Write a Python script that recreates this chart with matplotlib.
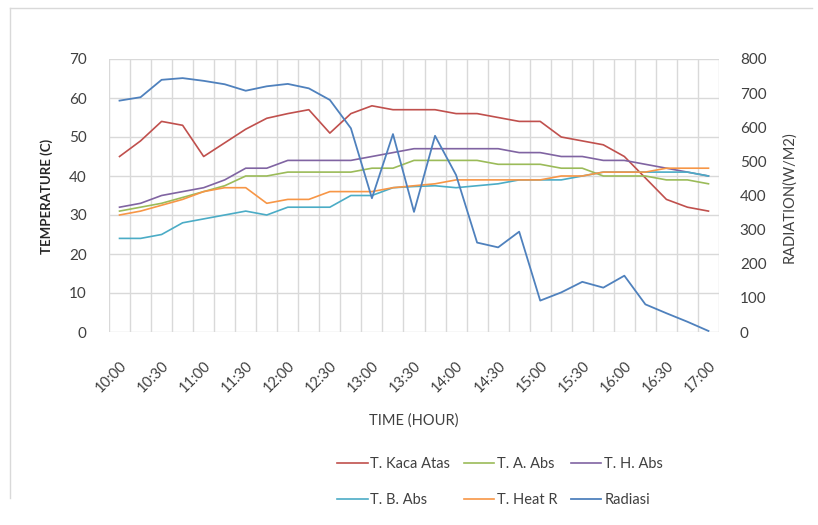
import matplotlib
matplotlib.use("Agg")
import matplotlib.pyplot as plt
from matplotlib.lines import Line2D

# ---------------------------------------------------------------------------
# Data (15-minute readings, 10:00 - 17:00)
# ---------------------------------------------------------------------------
times = ["10:00", "10:15", "10:30", "10:45", "11:00", "11:15", "11:30", "11:45",
         "12:00", "12:15", "12:30", "12:45", "13:00", "13:15", "13:30", "13:45",
         "14:00", "14:15", "14:30", "14:45", "15:00", "15:15", "15:30", "15:45",
         "16:00", "16:15", "16:30", "16:45", "17:00"]

t_kaca_atas = [45, 49, 54, 53, 45, 48.5, 52, 54.8, 56, 57, 51, 56, 58, 57, 57,
               57, 56, 56, 55, 54, 54, 50, 49, 48, 45, 39.5, 34, 32, 31]
t_a_abs = [31, 32, 33, 34.5, 36, 37.5, 40, 40, 41, 41, 41, 41, 42, 42, 44,
           44, 44, 44, 43, 43, 43, 42, 42, 40, 40, 40, 39, 39, 38]
t_h_abs = [32, 33, 35, 36, 37, 39, 42, 42, 44, 44, 44, 44, 45, 46, 47,
           47, 47, 47, 47, 46, 46, 45, 45, 44, 44, 43, 42, 41, 40]
t_b_abs = [24, 24, 25, 28, 29, 30, 31, 30, 32, 32, 32, 35, 35, 37, 37.3,
           37.5, 37, 37.5, 38, 39, 39, 39, 40, 41, 41, 41, 41, 41, 40]
t_heat_r = [30, 31, 32.5, 34, 36, 37, 37, 33, 34, 34, 36, 36, 36, 37, 37.5,
            38, 39, 39, 39, 39, 39, 40, 40, 41, 41, 41, 42, 42, 42]
radiasi = [678, 688, 739, 744, 736, 726, 707, 720, 727, 714, 680, 597, 392, 580,
           352, 575, 460, 262, 248, 294, 92, 116, 147, 130, 165, 81, 55, 30, 3]

temp_series = [
    ("T. Kaca Atas", t_kaca_atas, "#C0504D"),
    ("T. A. Abs", t_a_abs, "#9BBB59"),
    ("T. H. Abs", t_h_abs, "#8064A2"),
    ("T. B. Abs", t_b_abs, "#4BACC6"),
    ("T. Heat R", t_heat_r, "#F79646"),
]
RAD_COLOR = "#4F81BD"

plt.rcParams["font.family"] = ["Lato", "DejaVu Sans"]
TXT = "#404040"
GRID = "#D9D9D9"

W, H = 818, 525
fig = plt.figure(figsize=(W / 100, H / 100), dpi=100)
fig.patch.set_facecolor("white")

# plot area in pixels: x 109..719, y 59..332
ax = fig.add_axes([109 / W, 1 - 332 / H, 610 / W, 273 / H])
ax2 = ax.twinx()

x = list(range(len(times)))
handles = {}
for name, vals, col in temp_series:
    ln, = ax.plot(x, vals, color=col, lw=1.2, label=name)
    handles[name] = ln
ln, = ax2.plot(x, radiasi, color=RAD_COLOR, lw=1.3, label="Radiasi")
handles["Radiasi"] = ln

ax.set_xlim(-0.5, len(times) - 0.5)
ax.set_ylim(0, 70)
ax.set_yticks(range(0, 71, 10))
ax2.set_ylim(0, 800)
ax2.set_yticks(range(0, 801, 100))

# grid: horizontal on value ticks, vertical on category boundaries
ax.set_xticks([i - 0.5 for i in range(len(times) + 1)], minor=True)
ax.grid(True, which="minor", axis="x", color=GRID, lw=1)
ax.grid(True, which="major", axis="y", color=GRID, lw=1)
ax.set_axisbelow(True)

ax.set_xticks(x[::2])
ax.set_xticklabels(times[::2], rotation=45, ha="right", rotation_mode="anchor",
                   fontsize=10.5, color=TXT)
ax.tick_params(axis="x", which="both", length=0, pad=19)
ax.tick_params(axis="y", length=0, pad=16, labelsize=11, labelcolor=TXT)
ax2.tick_params(axis="y", length=0, pad=15, labelsize=11, labelcolor=TXT)

for a in (ax, ax2):
    for s in a.spines.values():
        s.set_visible(False)

# axis titles
fig.text(47 / W, 1 - 196 / H, "TEMPERATURE (C)", rotation=90, ha="center",
         va="center", fontsize=9.5, fontweight="bold", color="#262626")
fig.text(789 / W, 1 - 197 / H, "RADIATION(W/M2)", rotation=90, ha="center",
         va="center", fontsize=10.5, color=TXT)
fig.text(414 / W, 1 - 421 / H, "TIME (HOUR)", ha="center", va="center",
         fontsize=10.5, color=TXT)

# legend: row 1 Kaca / A / H, row 2 B / Heat R / Radiasi
order = ["T. Kaca Atas", "T. B. Abs", "T. A. Abs", "T. Heat R", "T. H. Abs", "Radiasi"]
fig.legend([handles[k] for k in order], order, ncol=3, frameon=False,
           loc="center", bbox_to_anchor=(500 / W, 1 - 482 / H),
           fontsize=10.5, handlelength=2.1, handletextpad=0.2, columnspacing=0.9,
           labelspacing=1.5, labelcolor=TXT)

# faint chart border (left and top edges)
fig.add_artist(Line2D([10 / W, 10 / W], [1 - 8 / H, 1 - 498 / H], color=GRID, lw=1))
fig.add_artist(Line2D([10 / W, 812 / W], [1 - 8 / H, 1 - 8 / H], color=GRID, lw=1))

fig.savefig("out.png", dpi=100, facecolor="white")
